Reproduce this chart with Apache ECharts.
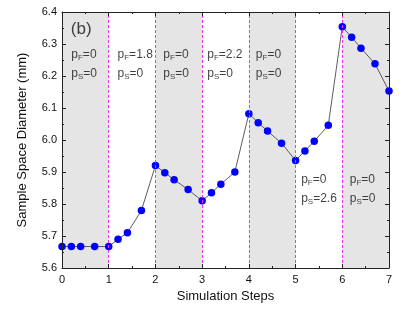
<!DOCTYPE html>
<html>
<head>
<meta charset="utf-8">
<script src="https://cdn.jsdelivr.net/npm/echarts@6/dist/echarts.min.js"></script>
<style>html,body{margin:0;padding:0;background:#fff}#c{width:407px;height:312px}</style>
</head>
<body>
<div id="c"></div>
<script>
// Data
var steps = [0,0.2,0.4,0.7,1.0, 1.2,1.4,1.7,2.0, 2.2,2.4,2.7,3.0, 3.2,3.4,3.7,4.0, 4.2,4.4,4.7,5.0, 5.2,5.4,5.7,6.0, 6.2,6.4,6.7,7.0];
var diameter = [5.667,5.667,5.667,5.667,5.667, 5.69,5.71,5.78,5.92, 5.898,5.876,5.845,5.81, 5.835,5.862,5.90,6.082, 6.054,6.028,5.99,5.936, 5.966,5.996,6.046,6.354, 6.321,6.287,6.238,6.153];
var shadedStarts = [0,2,4,6];
var boundaries = [1,2,3,4,5,6];
var pF = ['0','1.8','0','2.2','0','0','0'];
var pS = ['0','0','0','0','0','2.6','0'];
var xTicks = [0,1,2,3,4,5,6,7];
var yTicks = [5.6,5.7,5.8,5.9,6.0,6.1,6.2,6.3,6.4];

// annotation anchors (data units)
var annX = [0.21,1.2,2.18,3.12,4.16,5.13,6.17];
var annY = [6.294,6.294,6.294,6.294,6.294,5.905,5.905];

var FONT = 'Liberation Sans, Arial, sans-serif';
var chart = echarts.init(document.getElementById('c'), null, {renderer:'canvas'});

var lineData = steps.map(function(x,i){return [x, diameter[i]];});
var annData = annX.map(function(x,i){return {value:[x, annY[i]], pf:pF[i], ps:pS[i]};});

var axisCommon = {
  type:'value', z:10,
  axisLine:{show:true, onZero:false, lineStyle:{color:'#222', width:1}},
  axisTick:{show:true, inside:true, length:4, lineStyle:{color:'#222'}},
  minorTick:{show:true, splitNumber:2, length:2, lineStyle:{color:'#222'}},
  splitLine:{show:false}
};

chart.setOption({
  animation:false,
  grid:{left:62, right:18, top:12, bottom:44},
  xAxis:[
    Object.assign({}, axisCommon, {min:0, max:7, interval:1, position:'bottom',
      name:'Simulation Steps', nameLocation:'middle', nameGap:22,
      nameTextStyle:{fontFamily:FONT, fontSize:13, color:'#111'},
      axisLabel:{fontFamily:FONT, fontSize:11, color:'#111', margin:6,
        formatter:function(v){return xTicks.indexOf(v)>=0 ? String(v) : '';}}}),
    Object.assign({}, axisCommon, {min:0, max:7, interval:1, position:'top', axisLabel:{show:false}})
  ],
  yAxis:[
    Object.assign({}, axisCommon, {min:5.6, max:6.4, interval:0.1, position:'left',
      name:'Sample Space Diameter (mm)', nameLocation:'middle', nameGap:33,
      nameTextStyle:{fontFamily:FONT, fontSize:13, color:'#111'},
      axisLabel:{fontFamily:FONT, fontSize:11, color:'#111', margin:5,
        formatter:function(v){return v.toFixed(1);}}}),
    Object.assign({}, axisCommon, {min:5.6, max:6.4, interval:0.1, position:'right', axisLabel:{show:false}})
  ],
  series:[
    {
      type:'line', data:lineData, z:3,
      symbol:'circle', symbolSize:7.5,
      itemStyle:{color:'#0000ff'},
      lineStyle:{color:'#333', width:0.8},
      markArea:{silent:true, itemStyle:{color:'#e5e5e5', opacity:1},
        data: shadedStarts.map(function(s){return [{xAxis:s},{xAxis:s+1}];})},
      markLine:{silent:true, symbol:['none','none'], label:{show:false},
        lineStyle:{color:'#ee33ee', type:[3,2], width:1},
        data: boundaries.map(function(b){return {xAxis:b};})}
    },
    {
      type:'scatter', symbolSize:1, itemStyle:{color:'rgba(0,0,0,0)'}, z:4, silent:true,
      data: annData,
      label:{show:true, position:[0,0], align:'left', verticalAlign:'top',
        formatter:function(p){return '{p|p}{sub|F}{p|='+p.data.pf+'}\n{p|p}{sub|S}{p|='+p.data.ps+'}';},
        rich:{
          p:{fontFamily:FONT, fontSize:12, color:'#111', lineHeight:19},
          sub:{fontFamily:FONT, fontSize:8, color:'#111', lineHeight:19, padding:[6,0,0,0]}
        }}
    },
    {
      type:'scatter', symbolSize:1, itemStyle:{color:'rgba(0,0,0,0)'}, z:4, silent:true,
      data:[[0.2, 6.37]],
      label:{show:true, position:[0,0], align:'left', verticalAlign:'top',
        formatter:'(b)', fontFamily:FONT, fontSize:17, color:'#111'}
    }
  ]
});
</script>
</body>
</html>
